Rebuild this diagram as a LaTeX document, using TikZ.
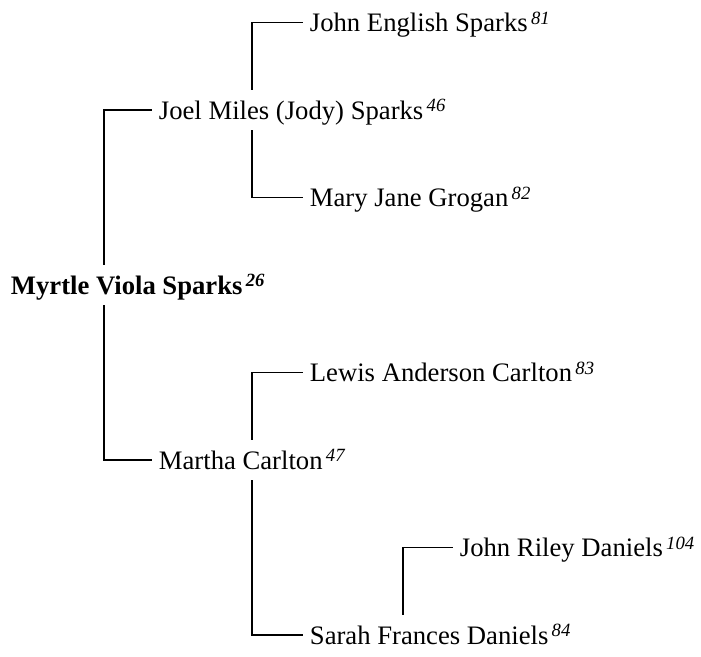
\documentclass[tikz,border=0pt]{standalone}
\usepackage{fontspec}
\setmainfont{Liberation Serif}
\usepackage{tikz}
\usetikzlibrary{positioning,calc}

\newcommand{\gennum}[1]{\kern2.5pt\raisebox{5.5pt}{\fontsize{14}{16}\selectfont\itshape #1}}

\begin{document}
\begin{tikzpicture}[
    x=0.75pt, y=-0.75pt,
    person/.style={anchor=west, inner xsep=5pt, inner ysep=3pt, text height=18.75pt, text depth=5.25pt, font=\fontsize{20}{24}\selectfont},
    link/.style={line width=0.8pt}
]
\useasboundingbox (0,0) rectangle (701,657);

% root
\node[person, font=\fontsize{20}{24}\selectfont\bfseries] (myrtle) at (4, 285) {Myrtle Viola Sparks\gennum{26}};

% parents
\node[person] (joel) at (152, 110) {Joel Miles (Jody) Sparks\gennum{46}};
\node[person] (martha) at (152, 460) {Martha Carlton\gennum{47}};

% grandparents
\node[person] (john) at (303, 22.5) {John English Sparks\gennum{81}};
\node[person] (mary) at (303, 197.5) {Mary Jane Grogan\gennum{82}};
\node[person] (lewis) at (303, 372.5) {Lewis Anderson Carlton\gennum{83}};
\node[person] (sarah) at (303, 635) {Sarah Frances Daniels\gennum{84}};

% great-grandparent
\node[person] (riley) at (453, 547.5) {John Riley Daniels\gennum{104}};

\draw[link] ([xshift=75pt]myrtle.north west) |- (joel.west);
\draw[link] ([xshift=75pt]myrtle.south west) |- (martha.west);
\draw[link] ([xshift=75pt]joel.north west) |- (john.west);
\draw[link] ([xshift=75pt]joel.south west) |- (mary.west);
\draw[link] ([xshift=75pt]martha.north west) |- (lewis.west);
\draw[link] ([xshift=75pt]martha.south west) |- (sarah.west);
\draw[link] ([xshift=75pt]sarah.north west) |- (riley.west);
\end{tikzpicture}
\end{document}
